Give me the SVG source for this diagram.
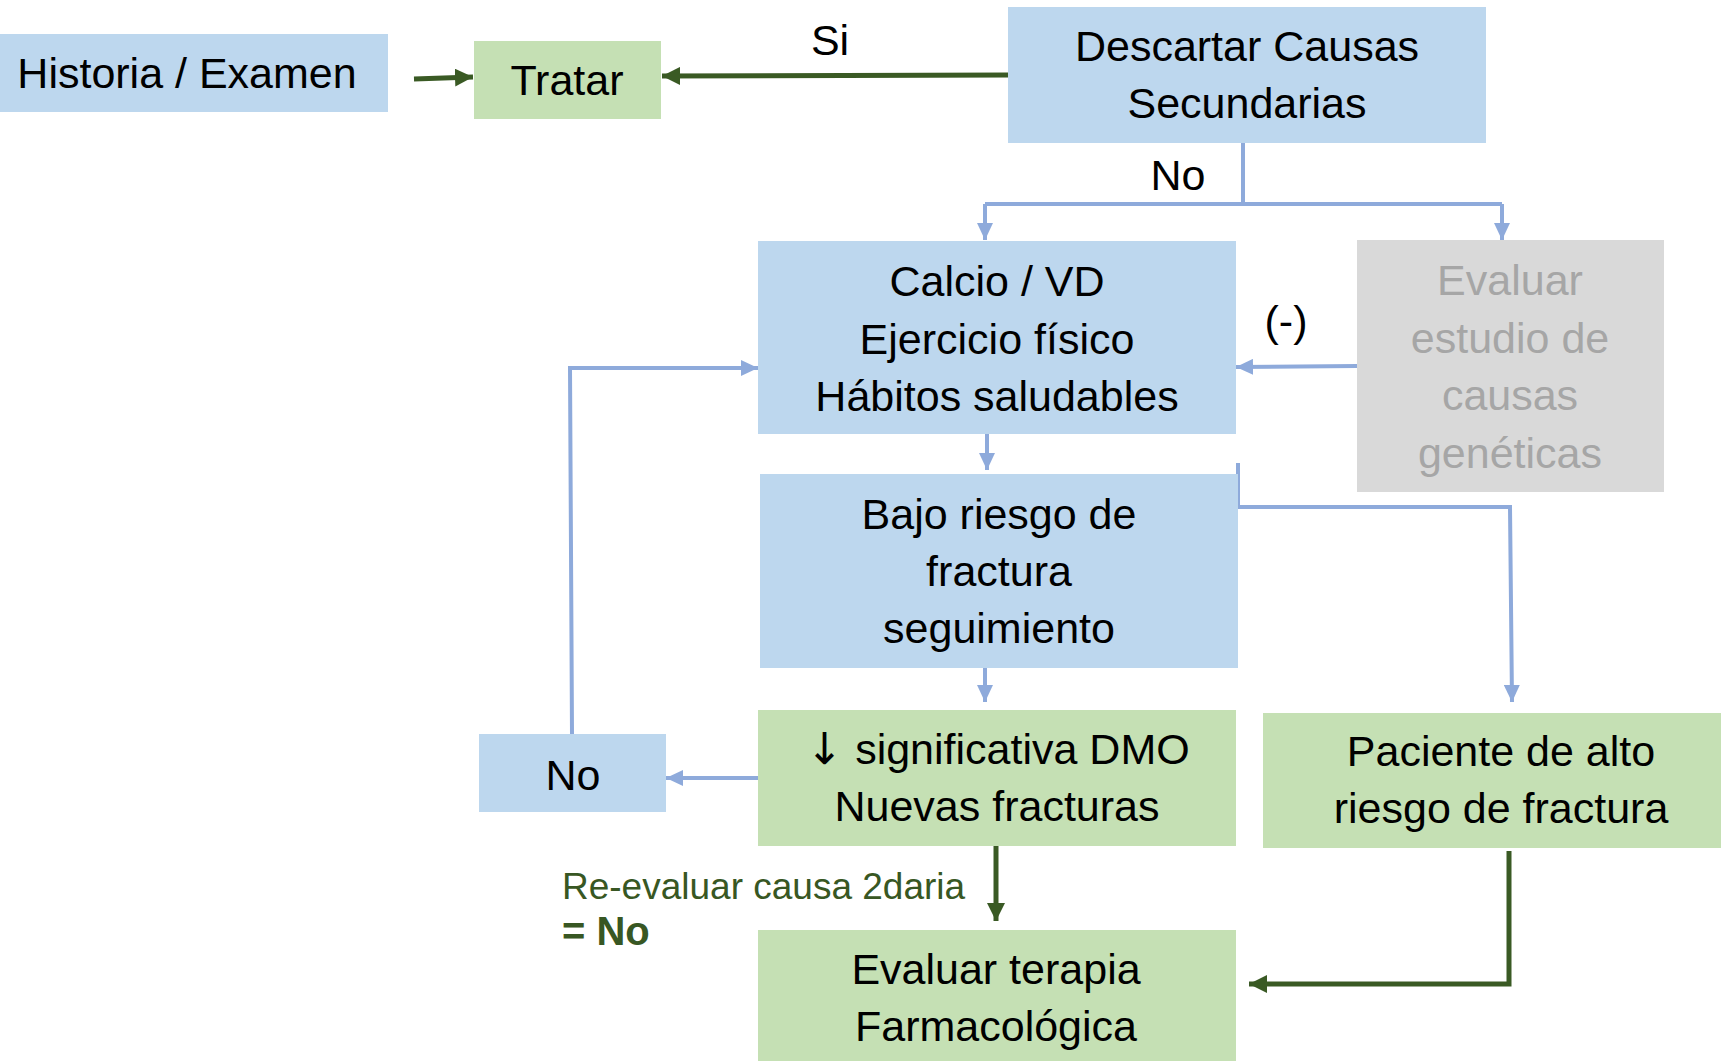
<svg xmlns="http://www.w3.org/2000/svg" width="1721" height="1061" viewBox="0 0 1721 1061">
<style>
  .blue { fill: #bdd7ee; }
  .green { fill: #c5e0b4; }
  .gray { fill: #d9d9d9; }
  text { font-family: "Liberation Sans", Arial, sans-serif; font-size: 43px; fill: #000; text-anchor: middle; }
  .gt { fill: #a6a6a6; }
  .arr { font-family: "DejaVu Sans", sans-serif; font-size: 44px; }
  .lbl { font-size: 37px; fill: #385723; text-anchor: start; }
  .lblb { font-size: 40px; font-weight: bold; fill: #385723; text-anchor: start; }
  .cb { fill: none; stroke: #8eaadb; stroke-width: 4; }
  .cg { fill: none; stroke: #3a5a24; stroke-width: 5; }
</style>
<defs>
  <marker id="ab" markerUnits="userSpaceOnUse" markerWidth="18" markerHeight="16" refX="17" refY="8" orient="auto">
    <path d="M0,0 L17,8 L0,16 Z" fill="#8eaadb"/>
  </marker>
  <marker id="ag" markerUnits="userSpaceOnUse" markerWidth="19" markerHeight="18" refX="18" refY="9" orient="auto">
    <path d="M0,0 L18,9 L0,18 Z" fill="#3a5a24"/>
  </marker>
</defs>
<rect width="1721" height="1061" fill="#ffffff"/>

<g id="connectors">
  <path class="cg" d="M414,79 L473,77" marker-end="url(#ag)"/>
  <path class="cg" d="M1008,75 L662,76" marker-end="url(#ag)"/>
  <path class="cb" d="M1243,139 L1243,204"/>
  <path class="cb" d="M985,204 L1502,204"/>
  <path class="cb" d="M985,204 L985,240" marker-end="url(#ab)"/>
  <path class="cb" d="M1502,204 L1502,240" marker-end="url(#ab)"/>
  <path class="cb" d="M1357,366 L1236,367" marker-end="url(#ab)"/>
  <path class="cb" d="M987,434 L987,470" marker-end="url(#ab)"/>
  <path class="cb" d="M1238,463 L1238,507 L1510,507 L1512,702" marker-end="url(#ab)"/>
  <path class="cb" d="M985,668 L985,702" marker-end="url(#ab)"/>
  <path class="cb" d="M758,778 L666,778" marker-end="url(#ab)"/>
  <path class="cb" d="M572,734 L570,368 L758,368" marker-end="url(#ab)"/>
  <path class="cg" d="M996,843 L996,921" marker-end="url(#ag)"/>
  <path class="cg" d="M1509,851 L1509,984 L1249,984" marker-end="url(#ag)"/>
  <text x="830" y="55">Si</text>
  <text x="1178" y="190">No</text>
  <text x="1286" y="336">(-)</text>
  <text class="lbl" x="562" y="899">Re-evaluar causa 2daria</text>
  <text class="lblb" x="562" y="945">= No</text>
</g>

<g id="historia">
  <rect class="blue" x="0" y="34" width="388" height="78"/>
  <text x="187" y="88">Historia / Examen</text>
</g>
<g id="tratar">
  <rect class="green" x="474" y="41" width="187" height="78"/>
  <text x="567" y="95">Tratar</text>
</g>
<g id="descartar">
  <rect class="blue" x="1008" y="7" width="478" height="136"/>
  <text x="1247" y="61">Descartar Causas</text>
  <text x="1247" y="118">Secundarias</text>
</g>
<g id="calcio">
  <rect class="blue" x="758" y="241" width="478" height="193"/>
  <text x="997" y="296">Calcio / VD</text>
  <text x="997" y="354">Ejercicio físico</text>
  <text x="997" y="411">Hábitos saludables</text>
</g>
<g id="geneticas">
  <rect class="gray" x="1357" y="240" width="307" height="252"/>
  <text class="gt" x="1510" y="295">Evaluar</text>
  <text class="gt" x="1510" y="353">estudio de</text>
  <text class="gt" x="1510" y="410">causas</text>
  <text class="gt" x="1510" y="468">genéticas</text>
</g>
<g id="bajo">
  <rect class="blue" x="760" y="474" width="478" height="194"/>
  <text x="999" y="529">Bajo riesgo de</text>
  <text x="999" y="586">fractura</text>
  <text x="999" y="643">seguimiento</text>
</g>
<g id="significativa">
  <rect class="green" x="758" y="710" width="478" height="136"/>
  <text x="998" y="764"><tspan class="arr">↓</tspan> significativa DMO</text>
  <text x="997" y="821">Nuevas fracturas</text>
</g>
<g id="no">
  <rect class="blue" x="479" y="734" width="187" height="78"/>
  <text x="573" y="790">No</text>
</g>
<g id="paciente">
  <rect class="green" x="1263" y="713" width="458" height="135"/>
  <text x="1501" y="766">Paciente de alto</text>
  <text x="1501" y="823">riesgo de fractura</text>
</g>
<g id="evaluar">
  <rect class="green" x="758" y="930" width="478" height="131"/>
  <text x="996" y="984">Evaluar terapia</text>
  <text x="996" y="1041">Farmacológica</text>
</g>
</svg>
